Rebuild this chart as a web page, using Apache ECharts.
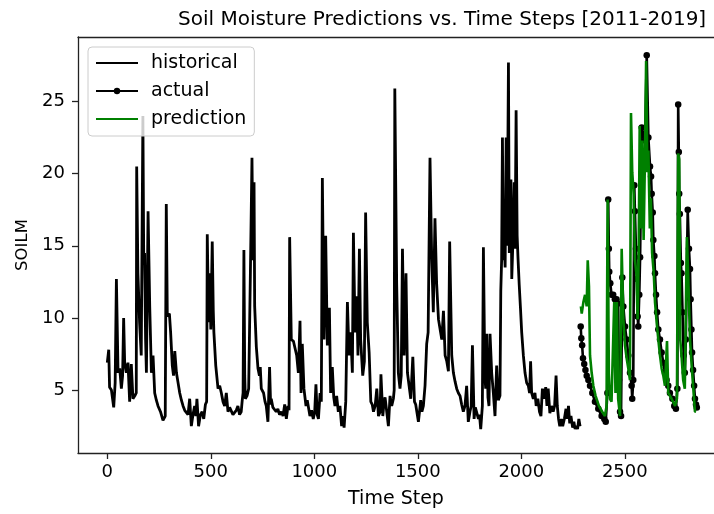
<!DOCTYPE html>
<html>
<head>
<meta charset="utf-8">
<script src="https://cdn.jsdelivr.net/npm/echarts@6/dist/echarts.min.js"></script>
<style>
html,body{margin:0;padding:0;background:#fff;}
#c{width:714px;height:514px;}
</style>
</head>
<body>
<div id="c"></div>
<script>
// ---- data ----
const xTicks = [0, 500, 1000, 1500, 2000, 2500];
const yTicks = [5, 10, 15, 20, 25];

const histSteps = [0,7,11,20,31,38,44,52,60,68,74,79,84,92,100,108,116,124,133,140,142,148,156,164,172,176,180,185,189,197,205,213,221,229,237,245,257,269,280,285,290,300,306,314,320,326,334,342,350,358,366,374,382,390,398,406,414,422,428,433,441,450,458,466,474,480,483,488,491,495,500,507,512,515,524,535,543,551,559,567,575,583,591,599,607,615,623,631,639,647,652,656,660,664,667,675,683,691,699,704,709,712,720,728,735,739,744,755,762,768,776,784,789,792,800,808,816,824,832,841,849,857,865,873,878,881,889,899,907,915,923,931,936,942,950,960,966,971,979,987,995,1002,1008,1014,1020,1028,1034,1039,1047,1055,1063,1069,1073,1079,1087,1094,1100,1108,1116,1124,1132,1138,1144,1152,1160,1168,1176,1184,1189,1197,1205,1211,1218,1224,1234,1242,1248,1256,1265,1273,1280,1286,1294,1302,1310,1318,1322,1331,1336,1342,1350,1358,1366,1374,1382,1386,1389,1398,1406,1414,1420,1426,1434,1443,1450,1458,1466,1476,1484,1490,1495,1503,1509,1514,1520,1527,1535,1543,1550,1559,1567,1575,1583,1591,1600,1608,1616,1624,1632,1640,1648,1654,1664,1672,1680,1688,1696,1704,1712,1720,1728,1736,1744,1752,1758,1764,1772,1778,1785,1793,1798,1804,1812,1817,1824,1828,1833,1839,1844,1849,1857,1865,1873,1881,1889,1897,1901,1905,1909,1913,1917,1922,1927,1932,1938,1942,1946,1950,1954,1960,1966,1970,1975,1980,1984,1990,1996,2002,2010,2018,2026,2034,2040,2045,2050,2058,2066,2072,2080,2088,2095,2102,2110,2118,2124,2130,2138,2146,2154,2161,2168,2174,2180,2186,2194,2200,2208,2216,2222,2228,2234,2240,2248,2254,2260,2266,2272,2278,2284];
const histValues = [6.9,7.8,5.2,5.0,3.8,5.5,12.7,6.2,6.5,5.1,6.0,10.0,6.9,6.2,6.9,4.2,6.8,4.4,4.6,4.8,20.5,13.1,9.7,7.4,24.0,14.0,14.5,8.5,6.2,17.4,10.8,6.2,7.4,4.8,4.3,3.9,3.5,2.9,3.2,17.9,10.1,10.3,9.0,6.7,6.0,7.7,6.2,5.5,4.8,4.3,3.9,3.6,3.7,3.3,4.4,2.5,3.3,3.9,3.2,4.4,2.5,3.3,3.5,3.0,4.0,4.2,15.8,11.0,9.7,13.1,9.2,15.3,10.5,9.0,6.7,5.1,5.3,4.8,4.2,3.9,4.8,3.5,3.8,3.7,3.3,3.2,3.6,3.9,3.3,3.5,4.3,4.8,14.7,6.0,4.4,4.6,5.1,12.8,21.1,14.0,19.4,10.8,8.0,6.5,6.0,6.6,5.1,4.8,4.2,3.9,2.8,6.6,4.0,4.4,3.8,3.9,3.5,3.7,3.3,3.5,3.2,4.0,3.0,3.9,3.6,15.6,8.5,8.4,8.3,7.4,6.2,9.8,4.8,8.2,5.1,3.9,4.3,4.3,3.2,3.6,3.0,3.5,5.4,3.3,3.0,4.8,4.2,19.7,8.5,15.7,8.1,8.6,10.7,4.8,6.6,4.5,3.9,4.6,3.5,3.9,2.5,3.2,2.4,4.2,11.1,7.4,9.0,6.2,15.9,9.0,11.5,7.4,14.8,8.5,6.0,7.0,17.3,9.7,7.6,4.2,4.0,3.5,3.9,5.1,3.2,3.5,6.1,3.2,4.0,4.5,3.5,2.5,4.6,3.9,4.4,5.0,25.9,12.4,6.2,5.1,6.0,14.8,7.4,13.1,6.2,5.3,4.4,7.3,4.2,4.0,3.9,2.8,3.6,4.3,3.5,3.9,5.3,8.2,9.0,21.1,14.3,10.4,16.9,12.4,9.9,9.2,8.5,10.5,7.4,7.0,6.3,15.3,7.4,6.2,5.6,5.1,4.8,4.6,4.0,3.5,3.9,5.3,2.8,3.5,3.9,8.1,3.0,3.8,3.9,3.0,3.3,2.3,3.9,14.9,6.0,5.1,8.9,4.5,3.9,8.9,6.2,4.8,3.2,6.7,4.3,4.6,11.9,14.0,22.5,14.0,15.3,13.5,22.5,15.0,27.7,14.5,17.0,19.6,12.7,15.5,19.4,14.8,24.4,15.7,14.2,12.3,10.7,9.0,7.4,6.2,5.5,5.3,4.8,7.0,4.8,4.4,4.8,3.9,4.4,3.5,3.2,5.1,4.4,5.2,3.9,5.1,3.4,3.9,3.5,3.9,6.0,3.9,3.0,2.5,3.0,2.5,3.0,3.7,3.0,3.9,2.7,3.2,2.4,2.8,2.3,2.5,2.3,3.0,2.5];

const actualSteps = [2287,2290,2294,2298,2304,2310,2316,2324,2332,2343,2356,2372,2388,2401,2408,2416,2420,2423,2425,2430,2436,2444,2452,2460,2468,2472,2477,2482,2488,2493,2501,2509,2517,2525,2533,2536,2541,2546,2549,2554,2559,2562,2565,2570,2574,2582,2590,2598,2606,2614,2622,2627,2630,2635,2638,2643,2646,2651,2656,2662,2670,2678,2686,2694,2702,2710,2718,2730,2739,2747,2754,2758,2761,2763,2766,2771,2774,2779,2784,2790,2795,2804,2810,2815,2818,2822,2825,2830,2835,2839,2844,2848];
const actualValues = [9.4,8.6,8.1,7.2,6.8,6.4,6.0,5.7,5.3,4.8,4.2,3.7,3.2,3.0,2.8,4.8,18.2,14.8,13.2,12.4,11.6,11.6,11.3,11.3,11.0,5.7,3.5,3.2,12.8,10.8,9.4,8.5,7.4,6.2,5.3,4.4,5.7,19.2,17.4,14.8,12.7,10.1,9.4,11.6,14.2,23.2,22.7,22.3,28.2,22.5,20.5,19.8,18.6,17.3,15.4,14.3,13.1,11.6,10.4,9.2,8.5,7.6,6.9,6.2,5.7,5.3,4.8,4.4,3.9,3.7,5.1,24.8,21.5,18.6,17.2,13.8,13.1,10.4,7.4,6.2,8.5,17.5,14.8,13.4,11.3,9.2,7.6,6.4,5.3,4.4,4.0,3.8];

const predSteps = [2288,2292,2300,2308,2316,2321,2327,2332,2340,2348,2359,2375,2391,2404,2412,2417,2423,2428,2436,2449,2455,2462,2468,2477,2485,2493,2501,2509,2517,2525,2530,2536,2543,2549,2556,2562,2567,2572,2578,2585,2591,2598,2603,2609,2614,2621,2626,2632,2640,2646,2654,2662,2670,2678,2686,2694,2704,2710,2726,2743,2752,2758,2763,2768,2774,2782,2790,2800,2806,2815,2823,2831,2839,2843];
const predValues = [10.8,10.3,11.1,11.6,10.8,14.0,12.2,7.4,6.2,5.3,4.6,3.9,3.5,3.2,3.9,18.2,6.2,4.4,4.2,11.1,4.8,11.1,4.4,3.2,14.8,9.9,8.1,7.2,6.5,5.7,24.2,20.1,18.6,14.0,13.1,9.9,14.3,23.3,16.2,22.3,15.4,21.6,27.8,20.1,21.6,16.2,18.3,14.5,13.1,11.1,9.7,8.5,7.4,6.5,6.0,5.3,8.4,4.8,4.4,3.9,4.4,21.4,21.0,8.5,7.4,5.7,5.1,15.6,13.1,8.5,6.7,5.1,3.5,3.5];

function pairs(xs, ys) { return xs.map((x, i) => [x, ys[i]]); }

const FONT = 'DejaVu Sans';
const chart = echarts.init(document.getElementById('c'), null, {renderer: 'canvas'});
const lineCol = '#222';
const plain = v => String(v);
const hidden = {color: 'rgba(0,0,0,0)', borderColor: 'rgba(0,0,0,0)', borderWidth: 0, opacity: 0};

chart.setOption({
  animation: false,
  backgroundColor: '#fff',
  textStyle: {fontFamily: FONT},
  title: {
    text: 'Soil Moisture Predictions vs. Time Steps [2011-2019]',
    left: 173, top: 5,
    textStyle: {fontFamily: FONT, fontSize: 20, fontWeight: 'normal', color: '#000'}
  },
  grid: {left: 78, right: 0, top: 37, bottom: 60, containLabel: false},
  legend: {
    orient: 'vertical',
    left: 88, top: 47,
    padding: [6, 8, 7, 7],
    itemWidth: 42, itemHeight: 8, itemGap: 8,
    backgroundColor: 'rgba(255,255,255,0.8)',
    borderColor: '#cccccc', borderWidth: 1, borderRadius: 4,
    textStyle: {fontFamily: FONT, fontSize: 19, color: '#000', lineHeight: 20, padding: [0, 0, 0, 8]},
    data: [
      {name: 'historical', itemStyle: hidden},
      {name: 'actual'},
      {name: 'prediction', itemStyle: hidden}
    ],
    zlevel: 1, z: 10
  },
  xAxis: [{
    type: 'value', min: -141.5, max: 2931,
    position: 'bottom',
    name: 'Time Step', nameLocation: 'middle', nameGap: 37,
    nameTextStyle: {fontFamily: FONT, fontSize: 19, color: '#000'},
    axisLine: {show: true, onZero: false, lineStyle: {color: lineCol, width: 1.3}},
    axisTick: {show: true, length: 6, lineStyle: {color: lineCol, width: 1.3}, customValues: xTicks},
    axisLabel: {show: true, margin: 10, fontSize: 18, color: '#000', fontFamily: FONT, customValues: xTicks, formatter: plain},
    splitLine: {show: false}
  }, {
    type: 'value', min: -141.5, max: 2931,
    position: 'top',
    axisLine: {show: true, onZero: false, lineStyle: {color: lineCol, width: 1.3}},
    axisTick: {show: false}, axisLabel: {show: false}, splitLine: {show: false}
  }],
  yAxis: {
    type: 'value', min: 0.64, max: 29.47,
    position: 'left',
    name: 'SOILM', nameLocation: 'middle', nameGap: 46,
    nameTextStyle: {fontFamily: FONT, fontSize: 16.5, color: '#000'},
    axisLine: {show: true, onZero: false, lineStyle: {color: lineCol, width: 1.3}},
    axisTick: {show: true, length: 6, lineStyle: {color: lineCol, width: 1.3}, customValues: yTicks},
    axisLabel: {show: true, margin: 13, fontSize: 18, color: '#000', fontFamily: FONT, customValues: yTicks, formatter: plain},
    splitLine: {show: false}
  },
  series: [{
    name: 'historical', type: 'line', xAxisIndex: 0,
    data: pairs(histSteps, histValues),
    symbol: 'none', showSymbol: false,
    lineStyle: {color: '#000', width: 2.8},
    itemStyle: {color: '#000'},
    z: 2
  }, {
    name: 'actual', type: 'line', xAxisIndex: 0,
    data: pairs(actualSteps, actualValues),
    symbol: 'circle', symbolSize: 6.5, showSymbol: true, showAllSymbol: true,
    lineStyle: {color: '#000', width: 2.6},
    itemStyle: {color: '#000', borderWidth: 0},
    z: 3
  }, {
    name: 'prediction', type: 'line', xAxisIndex: 0,
    data: pairs(predSteps, predValues),
    symbol: 'none', showSymbol: false,
    lineStyle: {color: '#008000', width: 2.6},
    itemStyle: {color: '#008000'},
    z: 4
  }]
});
</script>
</body>
</html>
